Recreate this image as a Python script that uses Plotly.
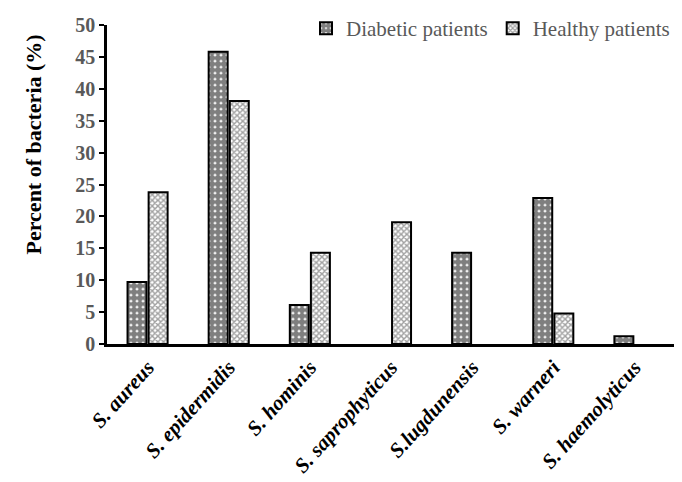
import plotly.graph_objects as go

categories = ["S. aureus", "S. epidermidis", "S. hominis", "S. saprophyticus",
              "S.lugdunensis", "S. warneri", "S. haemolyticus"]
diabetic = [9.7, 45.8, 6.1, None, 14.3, 22.9, 1.2]
healthy = [23.8, 38.1, 14.3, 19.1, None, 4.8, None]
y_ticks = [0, 5, 10, 15, 20, 25, 30, 35, 40, 45, 50]
y_title = "Percent of bacteria (%)"

font_family = "Liberation Serif, Times New Roman, serif"

fig = go.Figure()
fig.add_trace(go.Bar(
    x=categories, y=diabetic, name="Diabetic patients",
    marker=dict(color="white", line=dict(color="black", width=2),
                pattern=dict(shape=".", fgcolor="black", bgcolor="white",
                             size=6, solidity=0.8)),
))
fig.add_trace(go.Bar(
    x=categories, y=healthy, name="Healthy patients",
    marker=dict(color="white", line=dict(color="black", width=2),
                pattern=dict(shape="x", fgcolor="#444444", bgcolor="white",
                             size=4, solidity=0.6)),
))

fig.update_layout(
    width=667, height=474,
    margin=dict(l=99, r=0, t=15, b=138),
    paper_bgcolor="white", plot_bgcolor="white",
    barmode="group", bargap=0.48, bargroupgap=0.1,
    font=dict(family=font_family, color="black"),
    showlegend=True,
    legend=dict(orientation="h", x=1.0, xanchor="right", y=0.99, yanchor="middle",
                font=dict(size=21, color="#595959", family=font_family),
                itemwidth=30, bgcolor="rgba(0,0,0,0)"),
    xaxis=dict(showline=True, linecolor="black", linewidth=2.5,
               tickangle=-48, ticks="", automargin=False,
               tickfont=dict(size=21, family=font_family, color="black",
                             weight="bold", style="italic"),
               showgrid=False),
    yaxis=dict(range=[0, 50], tickvals=y_ticks, showline=True, linecolor="black",
               linewidth=2.5, ticks="outside", ticklen=5, tickwidth=2, tickcolor="black",
               automargin=False,
               tickfont=dict(size=20, family=font_family, color="#595959", weight="bold"),
               showgrid=False, zeroline=False),
    annotations=[dict(text=y_title, xref="paper", yref="paper",
                      x=-0.130, y=0.626, xanchor="center", yanchor="middle",
                      textangle=-90, showarrow=False,
                      font=dict(size=22, family=font_family, color="black", weight="bold"))],
)

fig.write_html("out.html")
